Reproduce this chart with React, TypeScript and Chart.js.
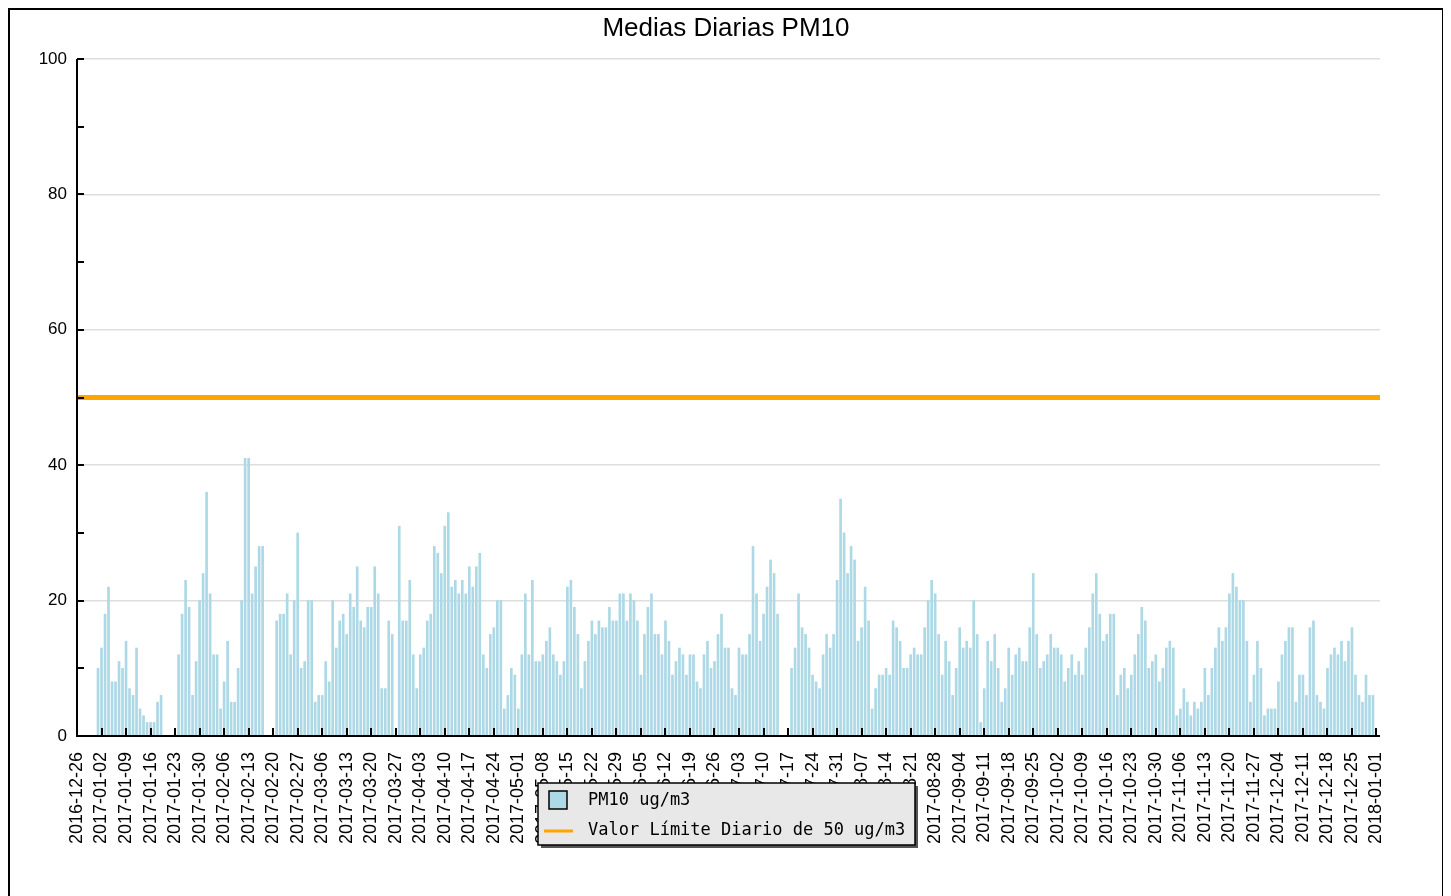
import React, { useEffect, useRef } from 'react';
import { Chart, registerables } from 'chart.js';

Chart.register(...registerables);

// ---- Data (PM10 daily means, ug/m3, 2017) ----
const pm10Jan = [10, 13, 18, 22, 8, 8, 11, 10, 14, 7, 6, 13, 4, 3, 2, 2, 2, 5, 6, null, null, null, null, 12, 18, 23, 19, 6, 11, 20, 24];
const pm10Feb = [36, 21, 12, 12, 4, 8, 14, 5, 5, 10, 20, 41, 41, 21, 25, 28, 28, null, null, null, 17, 18, 18, 21, 12, 20, 30, 10];
const pm10Mar = [11, 20, 20, 5, 6, 6, 11, 8, 20, 13, 17, 18, 15, 21, 19, 25, 17, 16, 19, 19, 25, 21, 7, 7, 17, 15, null, 31, 17, 17, 23];
const pm10Apr = [12, 7, 12, 13, 17, 18, 28, 27, 24, 31, 33, 22, 23, 21, 23, 21, 25, 22, 25, 27, 12, 10, 15, 16, 20, 20, 4, 6, 10, 9];
const pm10May = [4, 12, 21, 12, 23, 11, 11, 12, 14, 16, 12, 11, 9, 11, 22, 23, 19, 15, 7, 11, 14, 17, 15, 17, 16, 16, 19, 17, 17, 21, 21];
const pm10Jun = [17, 21, 20, 17, 9, 15, 19, 21, 15, 15, 12, 17, 14, 9, 11, 13, 12, 9, 12, 12, 8, 7, 12, 14, 10, 11, 15, 18, 13, 13];
const pm10Jul = [7, 6, 13, 12, 12, 15, 28, 21, 14, 18, 22, 26, 24, 18, null, null, null, 10, 13, 21, 16, 15, 13, 9, 8, 7, 12, 15, 13, 15, 23];
const pm10Aug = [35, 30, 24, 28, 26, 14, 16, 22, 17, 4, 7, 9, 9, 10, 9, 17, 16, 14, 10, 10, 12, 13, 12, 12, 16, 20, 23, 21, 15, 9, 14];
const pm10Sep = [11, 6, 10, 16, 13, 14, 13, 20, 15, 2, 7, 14, 11, 15, 10, 5, 7, 13, 9, 12, 13, 11, 11, 16, 24, 15, 10, 11, 12, 15];
const pm10Oct = [13, 13, 12, 8, 10, 12, 9, 11, 9, 13, 16, 21, 24, 18, 14, 15, 18, 18, 6, 9, 10, 7, 9, 12, 15, 19, 17, 10, 11, 12, 8];
const pm10Nov = [10, 13, 14, 13, 3, 4, 7, 5, 3, 5, 4, 5, 10, 6, 10, 13, 16, 14, 16, 21, 24, 22, 20, 20, 14, 5, 9, 14, 10, 3];
const pm10Dec = [4, 4, 4, 8, 12, 14, 16, 16, 5, 9, 9, 6, 16, 17, 6, 5, 4, 10, 12, 13, 12, 14, 11, 14, 16, 9, 6, 5, 9, 6, 6];

const monthStarts = ['2017-01-01', '2017-02-01', '2017-03-01', '2017-04-01', '2017-05-01', '2017-06-01',
  '2017-07-01', '2017-08-01', '2017-09-01', '2017-10-01', '2017-11-01', '2017-12-01'];
const monthlyValues = [pm10Jan, pm10Feb, pm10Mar, pm10Apr, pm10May, pm10Jun, pm10Jul, pm10Aug, pm10Sep, pm10Oct, pm10Nov, pm10Dec];

const weekLabels = ['2016-12-26', '2017-01-02', '2017-01-09', '2017-01-16', '2017-01-23', '2017-01-30',
  '2017-02-06', '2017-02-13', '2017-02-20', '2017-02-27', '2017-03-06', '2017-03-13', '2017-03-20', '2017-03-27',
  '2017-04-03', '2017-04-10', '2017-04-17', '2017-04-24', '2017-05-01', '2017-05-08', '2017-05-15', '2017-05-22',
  '2017-05-29', '2017-06-05', '2017-06-12', '2017-06-19', '2017-06-26', '2017-07-03', '2017-07-10', '2017-07-17',
  '2017-07-24', '2017-07-31', '2017-08-07', '2017-08-14', '2017-08-21', '2017-08-28', '2017-09-04', '2017-09-11',
  '2017-09-18', '2017-09-25', '2017-10-02', '2017-10-09', '2017-10-16', '2017-10-23', '2017-10-30', '2017-11-06',
  '2017-11-13', '2017-11-20', '2017-11-27', '2017-12-04', '2017-12-11', '2017-12-18', '2017-12-25', '2018-01-01'];

const yTicks = [0, 10, 20, 30, 40, 50, 60, 70, 80, 90, 100];
const LIMIT = 50;
const TITLE = 'Medias Diarias PM10';
const SERIES_LABEL = 'PM10 ug/m3';
const LIMIT_LABEL = 'Valor Límite Diario de 50 ug/m3';

const AXIS_START = '2016-12-26';
const AXIS_END = '2018-01-02';

const DAY = 86400000;
const dayIndex = (iso: string) => Math.round((Date.parse(iso + 'T00:00:00Z') - Date.parse(AXIS_START + 'T00:00:00Z')) / DAY);
const X_MIN = dayIndex(AXIS_START);
const X_MAX = dayIndex(AXIS_END);

const pm10Points = monthlyValues.flatMap((vals, m) => {
  const off = dayIndex(monthStarts[m]);
  return vals.map((v, i) => ({ x: off + i, y: v }));
});

const yFont = { family: '"Liberation Sans", Arial, sans-serif', size: 17 };
const xFont = { family: '"Liberation Sans", Arial, sans-serif', size: 18 };

const decorPlugin = {
  id: 'decor',
  afterDraw(chart: any) {
    const { ctx, chartArea: a, scales } = chart;
    const xs = scales.x;
    const ys = scales.y;
    ctx.save();
    // axes
    ctx.strokeStyle = '#000';
    ctx.lineWidth = 2;
    ctx.beginPath();
    ctx.moveTo(a.left, a.top);
    ctx.lineTo(a.left, a.bottom);
    ctx.lineTo(a.right, a.bottom);
    ctx.stroke();
    // inward tick marks
    ctx.beginPath();
    ys.ticks.forEach((t: any) => {
      const py = Math.round(ys.getPixelForValue(t.value));
      ctx.moveTo(a.left, py);
      ctx.lineTo(a.left + 7, py);
    });
    xs.ticks.forEach((t: any) => {
      const px = Math.round(xs.getPixelForValue(t.value));
      ctx.moveTo(px, a.bottom);
      ctx.lineTo(px, a.bottom - 8);
    });
    ctx.stroke();

    // title
    ctx.fillStyle = '#000';
    ctx.font = '26px "Liberation Sans", Arial, sans-serif';
    ctx.textAlign = 'center';
    ctx.textBaseline = 'middle';
    ctx.fillText(TITLE, chart.width / 2, 19);

    // legend box
    const bx = 528, by = 773, bw = 377, bh = 62;
    ctx.fillStyle = '#555';
    ctx.fillRect(bx + 3, by + 3, bw, bh);
    ctx.fillStyle = '#e8e8e8';
    ctx.fillRect(bx, by, bw, bh);
    ctx.strokeStyle = '#000';
    ctx.lineWidth = 1.5;
    ctx.strokeRect(bx, by, bw, bh);
    // marker square
    ctx.fillStyle = '#add8e6';
    ctx.fillRect(bx + 11, by + 8, 18, 18);
    ctx.strokeRect(bx + 11, by + 8, 18, 18);
    // orange line
    ctx.strokeStyle = '#ffa500';
    ctx.lineWidth = 3;
    ctx.beginPath();
    ctx.moveTo(bx + 6, by + 48);
    ctx.lineTo(bx + 35, by + 48);
    ctx.stroke();
    // texts
    ctx.fillStyle = '#000';
    ctx.font = '17px "DejaVu Sans Mono", monospace';
    ctx.textAlign = 'left';
    ctx.textBaseline = 'middle';
    ctx.fillText(SERIES_LABEL, bx + 50, by + 18);
    ctx.fillText(LIMIT_LABEL, bx + 50, by + 48);
    ctx.restore();
  },
};

export default function App() {
  const ref = useRef<HTMLCanvasElement>(null);
  useEffect(() => {
    document.documentElement.style.overflow = 'hidden';
    const chart = new Chart(ref.current as HTMLCanvasElement, {
      type: 'bar',
      data: {
        datasets: [
          {
            type: 'bar',
            label: SERIES_LABEL,
            data: pm10Points as any,
            backgroundColor: '#add8e6',
            barThickness: 2,
            order: 2,
          } as any,
          {
            type: 'line',
            label: LIMIT_LABEL,
            data: [{ x: X_MIN, y: LIMIT }, { x: X_MAX, y: LIMIT }],
            borderColor: '#ffa500',
            borderWidth: 5,
            pointRadius: 0,
            order: 1,
          } as any,
        ],
      },
      options: {
        responsive: false,
        animation: false,
        layout: { padding: { left: 27, right: 62, top: 49, bottom: 34 } },
        plugins: {
          legend: { display: false },
          title: { display: false },
          tooltip: { enabled: false },
        },
        scales: {
          x: {
            type: 'linear',
            min: X_MIN,
            max: X_MAX,
            offset: false,
            grid: { display: false, drawTicks: false, offset: false },
            border: { display: false },
            afterBuildTicks: (s: any) => {
              s.ticks = weekLabels.map((l) => ({ value: dayIndex(l) }));
            },
            afterFit: (s: any) => {
              s.height = 130;
            },
            ticks: {
              autoSkip: false,
              minRotation: 90,
              maxRotation: 90,
              padding: 16,
              color: '#000',
              font: xFont,
              callback: (_v: any, i: number) => weekLabels[i],
            },
          },
          y: {
            min: yTicks[0],
            max: yTicks[yTicks.length - 1],
            grid: {
              drawTicks: false,
              lineWidth: 1.5,
              color: (c: any) => (c.tick && c.tick.value % 20 === 0 && c.tick.value > 0 ? '#dedede' : 'rgba(0,0,0,0)'),
            },
            border: { display: false },
            afterBuildTicks: (s: any) => {
              s.ticks = yTicks.map((v) => ({ value: v }));
            },
            afterFit: (s: any) => {
              s.width = 40;
            },
            ticks: {
              padding: 10,
              color: '#000',
              font: yFont,
              callback: (v: any) => (Number(v) % 20 === 0 ? String(v) : ''),
            },
          },
        },
      },
      plugins: [decorPlugin],
    } as any);
    return () => chart.destroy();
  }, []);
  return (
    <div style={{ width: 1432, height: 890, border: '2px solid #000', background: '#fff' }}>
      <canvas ref={ref} width={1432} height={890} style={{ display: 'block' }} />
    </div>
  );
}
